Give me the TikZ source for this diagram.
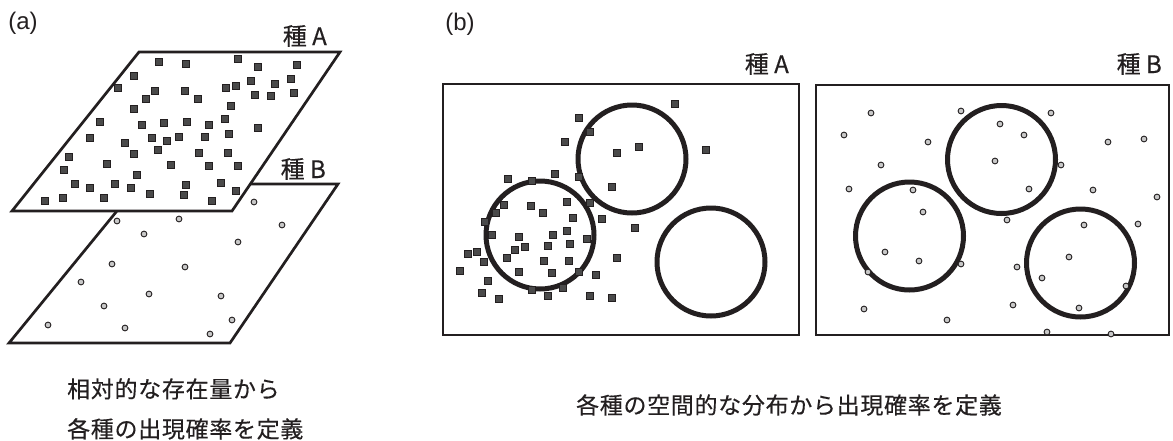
\documentclass[tikz,border=0pt]{standalone}
\usepackage{fontspec}
\setmainfont{Liberation Sans}
\newfontfamily\jp[FakeBold=0.35]{Noto Sans CJK JP}
\definecolor{ink}{HTML}{231F20}
\definecolor{sqfill}{HTML}{4A4A4A}
\definecolor{dotfill}{HTML}{C8C8C8}
\tikzset{
  sq/.style={rectangle, draw=ink, fill=sqfill, line width=0.9pt, minimum size=6.2pt, inner sep=0pt},
  dot/.style={circle, draw=ink, fill=dotfill, line width=0.9pt, minimum size=5.8pt, inner sep=0pt},
  plane/.style={draw=ink, line width=2.7pt, line join=miter},
  frame/.style={draw=ink, line width=2pt},
  ring/.style={draw=ink, line width=5pt},
  tag/.style={font=\jp\fontsize{24}{28}\selectfont, inner sep=0pt, text=ink},
  panel/.style={font=\fontsize{24}{28}\selectfont, inner sep=0pt, text=ink},
  caption/.style={font=\jp\fontsize{23}{40}\selectfont\addfontfeature{LetterSpace=3}, inner sep=0pt, text=ink, align=left},
}
\begin{document}
\begin{tikzpicture}[x=1pt,y=-1pt]
\useasboundingbox (0,0) rectangle (1173,440);
% ---------- panel (a) ----------
\node[panel] (pa) at (23,23) {(a)};
% plane B
\draw[plane, fill=white] (139,184) -- (338,184) -- (230,343) -- (9,343) -- cycle;
\foreach \x/\y in {254/202, 117/221, 179/219, 282/225, 144/234, 238/242, 112/264, 185/267, 81/282, 149/294, 221/296, 104/306, 232/320, 48/325, 125/328, 210/334}
  \node[dot] at (\x,\y) {};
% plane A
\draw[plane, fill=white] (139,52) -- (340,52) -- (232,211) -- (12,211) -- cycle;
\foreach \x/\y in {159/62, 186/64, 238/59, 258/67, 297/65, 134/76, 118/88, 155/91, 185/91, 226/88, 236/86, 251/81, 275/84, 291/79, 198/99, 255/95, 271/96, 294/93, 146/99, 134/109, 231/106, 100/122, 142/125, 164/123, 187/122, 209/125, 225/119, 258/128, 90/138, 125/143, 152/138, 167/141, 179/137, 205/137, 229/134, 134/154, 158/150, 199/153, 228/153, 69/157, 64/170, 107/164, 171/165, 209/166, 238/166, 137/175, 75/184, 90/188, 115/184, 131/188, 186/185, 221/183, 236/191, 45/201, 63/198, 104/198, 150/194, 184/195, 212/201}
  \node[sq] at (\x,\y) {};
\node[tag, anchor=east] (taA) at (327,36) {種 A};
\node[tag, anchor=east] (taB) at (326,169) {種 B};
\node[caption, anchor=north west] (capa) at (67,378) {相対的な存在量から\\各種の出現確率を定義};
% ---------- panel (b) ----------
\node[panel] (pb) at (460,24) {(b)};
\node[tag, anchor=east] (tbA) at (789,64) {種 A};
\node[tag, anchor=east] (tbB) at (1162,64) {種 B};
\draw[frame] (443,84) rectangle (799,335);
\draw[frame] (816,85) rectangle (1169,335);
\draw[ring] (632,159) circle[radius=54pt];
\draw[ring] (540,235) circle[radius=54pt];
\draw[ring] (711,262) circle[radius=54pt];
\draw[ring] (1001.5,159.5) circle[radius=54pt];
\draw[ring] (909.5,236) circle[radius=54pt];
\draw[ring] (1080.5,263) circle[radius=54pt];
\foreach \x/\y in {675/104, 579/118, 590/132, 565/142, 639/147, 617/153, 706/150, 555/174, 508/179, 532/181, 579/177, 612/187, 590/203, 567/202, 504/205, 531/206, 496/213, 543/213, 573/218, 602/219, 485/222, 635/228, 567/231, 492/235, 519/237, 553/235, 587/239, 525/247, 548/246, 570/244, 477/252, 468/254, 515/250, 507/258, 484/262, 544/261, 569/261, 617/258, 460/271, 519/272, 552/273, 579/272, 596/275, 488/281, 563/288, 532/290, 482/293, 499/299, 548/296, 590/296, 612/298}
  \node[sq] at (\x,\y) {};
\foreach \x/\y in {871/113, 961/111, 1051/113, 1000/124, 844/135, 1024/135, 928/142, 1108/142, 1144/139, 881/165, 995/161, 1061/165, 849/189, 913/190, 1029/189, 1093/190, 1157/197, 923/212, 1007/220, 1084/225, 1138/224, 885/252, 919/261, 961/264, 1069/257, 868/272, 1017/267, 1042/278, 1126/286, 864/309, 1013/305, 1079/308, 947/320, 1047/332, 1111/334}
  \node[dot] at (\x,\y) {};
\node[caption, anchor=center] (capb) at (789,405) {各種の空間的な分布から出現確率を定義};
\end{tikzpicture}
\end{document}
